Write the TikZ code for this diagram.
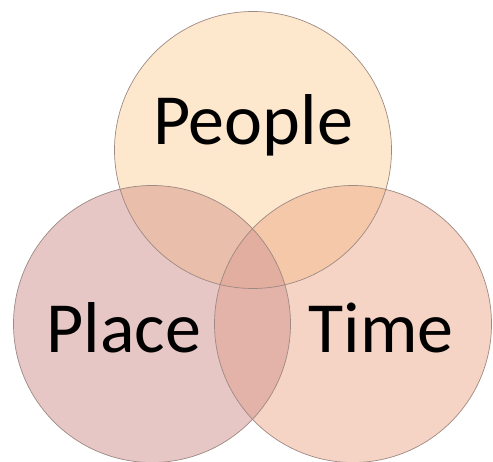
\documentclass[tikz,border=0pt]{standalone}
\usepackage{fontspec}
\setmainfont{Carlito}
\definecolor{cT}{HTML}{FDE8CE}
\definecolor{cL}{HTML}{E6C7C5}
\definecolor{cR}{HTML}{F6D4C5}
\definecolor{cTL}{HTML}{E9BEAA}
\definecolor{cTR}{HTML}{F4C8A8}
\definecolor{cLR}{HTML}{E3B2A9}
\definecolor{cTLR}{HTML}{E1AE9F}
\definecolor{rim}{HTML}{9E8A82}
\tikzset{
  venn/.style={circle, minimum size=277pt, inner sep=0pt, outer sep=0pt},
  word/.style={anchor=base, font=\fontsize{72}{80}\selectfont, text=black, inner sep=0pt}
}
\begin{document}
\begin{tikzpicture}[x=1pt,y=-1pt]
\useasboundingbox (0,0) rectangle (493,462);
\node[venn, fill=cT] (people) at (253,150) {};
\node[venn, fill=cL] (place) at (152,324) {};
\node[venn, fill=cR] (time) at (353,324) {};
\begin{scope}
  \clip (people.center) circle (138.5);
  \fill[cTL] (place.center) circle (138.5);
  \fill[cTR] (time.center) circle (138.5);
\end{scope}
\begin{scope}
  \clip (place.center) circle (138.5);
  \fill[cLR] (time.center) circle (138.5);
  \clip (people.center) circle (138.5);
  \fill[cTLR] (time.center) circle (138.5);
\end{scope}
\draw[rim, line width=0.7pt] (people.center) circle (138.5);
\draw[rim, line width=0.7pt] (place.center) circle (138.5);
\draw[rim, line width=0.7pt] (time.center) circle (138.5);
\node[word] (tpeople) at (253,145) {People};
\node[word] (tplace) at (124,353) {Place};
\node[word] (ttime) at (381,353) {Time};
\end{tikzpicture}
\end{document}
